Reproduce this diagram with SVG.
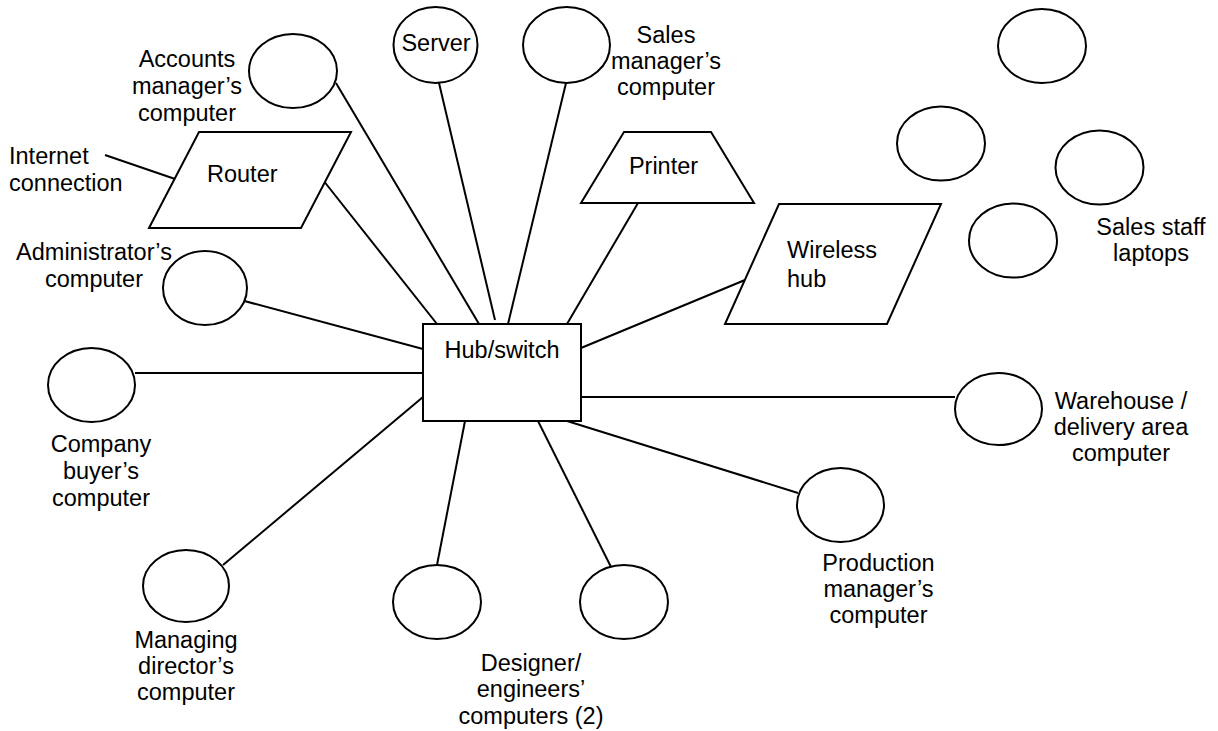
<svg xmlns="http://www.w3.org/2000/svg" width="1218" height="731" viewBox="0 0 1218 731">
<style>
.s{fill:#fff;stroke:#000;stroke-width:2}
.c line{stroke:#000;stroke-width:2}
text{font-family:"Liberation Sans",Arial,sans-serif;font-size:23.5px;fill:#000}
.m{text-anchor:middle}
</style>
<rect width="1218" height="731" fill="#fff"/>
<g class="c" id="connectors">
<line x1="105" y1="155" x2="178" y2="180"/>
<line x1="323" y1="180" x2="437" y2="324"/>
<line x1="336" y1="83" x2="479" y2="324"/>
<line x1="439" y1="83" x2="495" y2="320"/>
<line x1="566" y1="83" x2="508" y2="324"/>
<line x1="638" y1="203" x2="567" y2="324"/>
<line x1="745" y1="280" x2="581" y2="348"/>
<line x1="237" y1="299" x2="423" y2="349"/>
<line x1="135" y1="373" x2="423" y2="373"/>
<line x1="223" y1="565" x2="423" y2="397"/>
<line x1="437" y1="565" x2="465" y2="421"/>
<line x1="611" y1="567" x2="538" y2="421"/>
<line x1="567" y1="421" x2="798" y2="493"/>
<line x1="581" y1="397" x2="955" y2="397"/>
</g>
<g id="hub">
<rect class="s" x="423" y="324" width="158" height="97"/>
<text class="m" x="502" y="358">Hub/switch</text>
</g>
<g id="internet">
<text x="9" y="164">Internet</text>
<text x="9" y="191">connection</text>
</g>
<g id="router">
<polygon class="s" points="199,132 351,132 301,228 149,228"/>
<text x="207" y="182">Router</text>
</g>
<g id="accounts">
<ellipse class="s" cx="293" cy="71" rx="44" ry="37"/>
<text class="m" x="187" y="67">Accounts</text>
<text class="m" x="187" y="94">manager’s</text>
<text class="m" x="187" y="121">computer</text>
</g>
<g id="server">
<ellipse class="s" cx="435.5" cy="45" rx="42" ry="38"/>
<text class="m" x="436" y="51">Server</text>
</g>
<g id="salesmgr">
<ellipse class="s" cx="566.5" cy="45" rx="43.5" ry="38"/>
<text class="m" x="666" y="43">Sales</text>
<text class="m" x="666" y="69">manager’s</text>
<text class="m" x="666" y="95">computer</text>
</g>
<g id="printer">
<polygon class="s" points="624,132 711,132 754,203 581,203"/>
<text class="m" x="663.5" y="174">Printer</text>
</g>
<g id="wireless">
<polygon class="s" points="779,204 941,204 887,324 725,324"/>
<text x="787" y="258">Wireless</text>
<text x="787" y="287">hub</text>
</g>
<g id="laptops">
<ellipse class="s" cx="1042" cy="46" rx="44" ry="37"/>
<ellipse class="s" cx="941" cy="143.5" rx="44" ry="37"/>
<ellipse class="s" cx="1099.5" cy="167.5" rx="44" ry="37"/>
<ellipse class="s" cx="1013" cy="240.5" rx="44" ry="37"/>
<text class="m" x="1151" y="235">Sales staff</text>
<text class="m" x="1151" y="261">laptops</text>
</g>
<g id="admin">
<ellipse class="s" cx="205" cy="288" rx="42" ry="37"/>
<text class="m" x="94" y="260">Administrator’s</text>
<text class="m" x="94" y="287">computer</text>
</g>
<g id="buyer">
<ellipse class="s" cx="91.5" cy="385" rx="43.5" ry="37"/>
<text class="m" x="101" y="452">Company</text>
<text class="m" x="101" y="479">buyer’s</text>
<text class="m" x="101" y="506">computer</text>
</g>
<g id="md">
<ellipse class="s" cx="186" cy="586" rx="43" ry="36"/>
<text class="m" x="186" y="648">Managing</text>
<text class="m" x="186" y="674">director’s</text>
<text class="m" x="186" y="700">computer</text>
</g>
<g id="designers">
<ellipse class="s" cx="437" cy="602" rx="44" ry="37"/>
<ellipse class="s" cx="624" cy="602" rx="44" ry="37"/>
<text class="m" x="531" y="671">Designer/</text>
<text class="m" x="531" y="697">engineers’</text>
<text class="m" x="531" y="724">computers (2)</text>
</g>
<g id="production">
<ellipse class="s" cx="840.5" cy="505" rx="43.5" ry="37"/>
<text class="m" x="878.5" y="571">Production</text>
<text class="m" x="878.5" y="597">manager’s</text>
<text class="m" x="878.5" y="623">computer</text>
</g>
<g id="warehouse">
<ellipse class="s" cx="998.5" cy="409" rx="43.5" ry="36"/>
<text class="m" x="1121" y="409">Warehouse /</text>
<text class="m" x="1121" y="435">delivery area</text>
<text class="m" x="1121" y="461">computer</text>
</g>
</svg>
